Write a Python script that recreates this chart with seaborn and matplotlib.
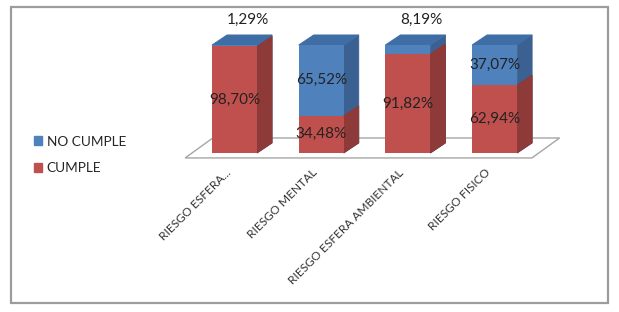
import numpy as np
import pandas as pd
import seaborn as sns
import matplotlib.pyplot as plt
from matplotlib.patches import Patch, Polygon, Rectangle
from matplotlib.transforms import ScaledTranslation

# --------------------------- DATA ---------------------------
categories = ['RIESGO ESFERA...', 'RIESGO MENTAL', 'RIESGO ESFERA AMBIENTAL', 'RIESGO FISICO']
cumple = [98.70, 34.48, 91.82, 62.94]
no_cumple = [1.29, 65.52, 8.19, 37.07]
label_cumple = ['98,70%', '34,48%', '91,82%', '62,94%']
label_no_cumple = ['1,29%', '65,52%', '8,19%', '37,07%']

df = pd.DataFrame({'riesgo': categories, 'cumple': cumple, 'no_cumple': no_cumple})
df['total'] = df['cumple'] + df['no_cumple']

# --------------------------- STYLE ---------------------------
sns.set_theme(style="white")
plt.rcParams['font.family'] = ['Lato', 'DejaVu Sans']

red_front, red_side = '#C0504D', '#8E3A38'
blue_front, blue_side, blue_top = '#4F81BD', '#3A6191', '#3F6DA5'
bar_w = 0.52
dx, dy = 0.173, 9.3   # fake 3D depth

fig = plt.figure(figsize=(6.19, 3.12), dpi=100)
ax = fig.add_axes([150 / 619, 1 - 160 / 312, 450 / 619, 150 / 312])

# front faces (stacked)
sns.barplot(data=df, x='riesgo', y='total', color=blue_front, saturation=1,
            width=bar_w, ax=ax, zorder=3, linewidth=0)
sns.barplot(data=df, x='riesgo', y='cumple', color=red_front, saturation=1,
            width=bar_w, ax=ax, zorder=4, linewidth=0)

n = len(categories)
blue_bars = ax.patches[:n]
red_bars = ax.patches[n:2 * n]

# side faces, top face only on the top segment
for bars, side_c, z, with_top in [(blue_bars, blue_side, 3, True), (red_bars, red_side, 4, False)]:
    for b in bars:
        x0, w, y0, h = b.get_x(), b.get_width(), b.get_y(), b.get_height()
        x1, y1 = x0 + w, y0 + h
        ax.add_patch(Polygon([(x1, y0), (x1 + dx, y0 + dy), (x1 + dx, y1 + dy), (x1, y1)],
                             closed=True, facecolor=side_c, edgecolor=side_c, lw=0.6,
                             zorder=z - 0.5))
        if with_top:
            ax.add_patch(Polygon([(x0, y1), (x0 + dx, y1 + dy), (x1 + dx, y1 + dy), (x1, y1)],
                                 closed=True, facecolor=blue_top, edgecolor=blue_top, lw=0.6,
                                 zorder=z - 0.5))

# floor
fl_front, fl_back = -4.6, 13.9
fl_left, fl_right, fl_dx = -0.57, 3.43, 0.32
ax.add_patch(Polygon([(fl_left, fl_front), (fl_right, fl_front),
                      (fl_right + fl_dx, fl_back), (fl_left + fl_dx, fl_back)],
                     closed=True, facecolor='white', edgecolor='#a6a6a6', lw=1.0, zorder=1))

# data labels
for i, b in enumerate(red_bars):
    xc = b.get_x() + b.get_width() / 2
    ax.text(xc, cumple[i] / 2, label_cumple[i], ha='center', va='center',
            fontsize=11, color='#222222', zorder=10)
    if no_cumple[i] > 20:
        ax.text(xc, cumple[i] + no_cumple[i] / 2, label_no_cumple[i], ha='center', va='center',
                fontsize=11, color='#222222', zorder=10)
    else:
        ax.text(xc + 0.15, 123, label_no_cumple[i], ha='center', va='center',
                fontsize=11, color='#222222', zorder=10)

ax.set_xlim(-0.975, 4.216)
ax.set_ylim(-6.5, 132.4)
ax.set_yticks([])
ax.set_xlabel('')
ax.set_ylabel('')
for s in ax.spines.values():
    s.set_visible(False)
ax.tick_params(axis='x', length=0, pad=5)
ax.set_xticks(range(n))
ax.set_xticklabels(categories, rotation=45, ha='right', rotation_mode='anchor',
                   fontsize=8.6, color='#333333')
for lab in ax.get_xticklabels():
    lab.set_transform(lab.get_transform() + ScaledTranslation(-7 / 72, 0, fig.dpi_scale_trans))

# legend
handles = [Patch(color=blue_front, label='NO CUMPLE'), Patch(color=red_front, label='CUMPLE')]
fig.legend(handles=handles, loc='center left', bbox_to_anchor=(22 / 619, 1 - 155 / 312),
           bbox_transform=fig.transFigure, frameon=False, fontsize=9.8,
           handlelength=0.6, handleheight=0.6, handletextpad=0.3, labelspacing=1.1)

# outer chart border
fig.patches.append(Rectangle((11 / 619, 1 - 303 / 312), 597 / 619, 296 / 312,
                             transform=fig.transFigure, fill=False,
                             edgecolor='#9c9c9c', lw=1.6))

fig.savefig('out.png', dpi=100)
